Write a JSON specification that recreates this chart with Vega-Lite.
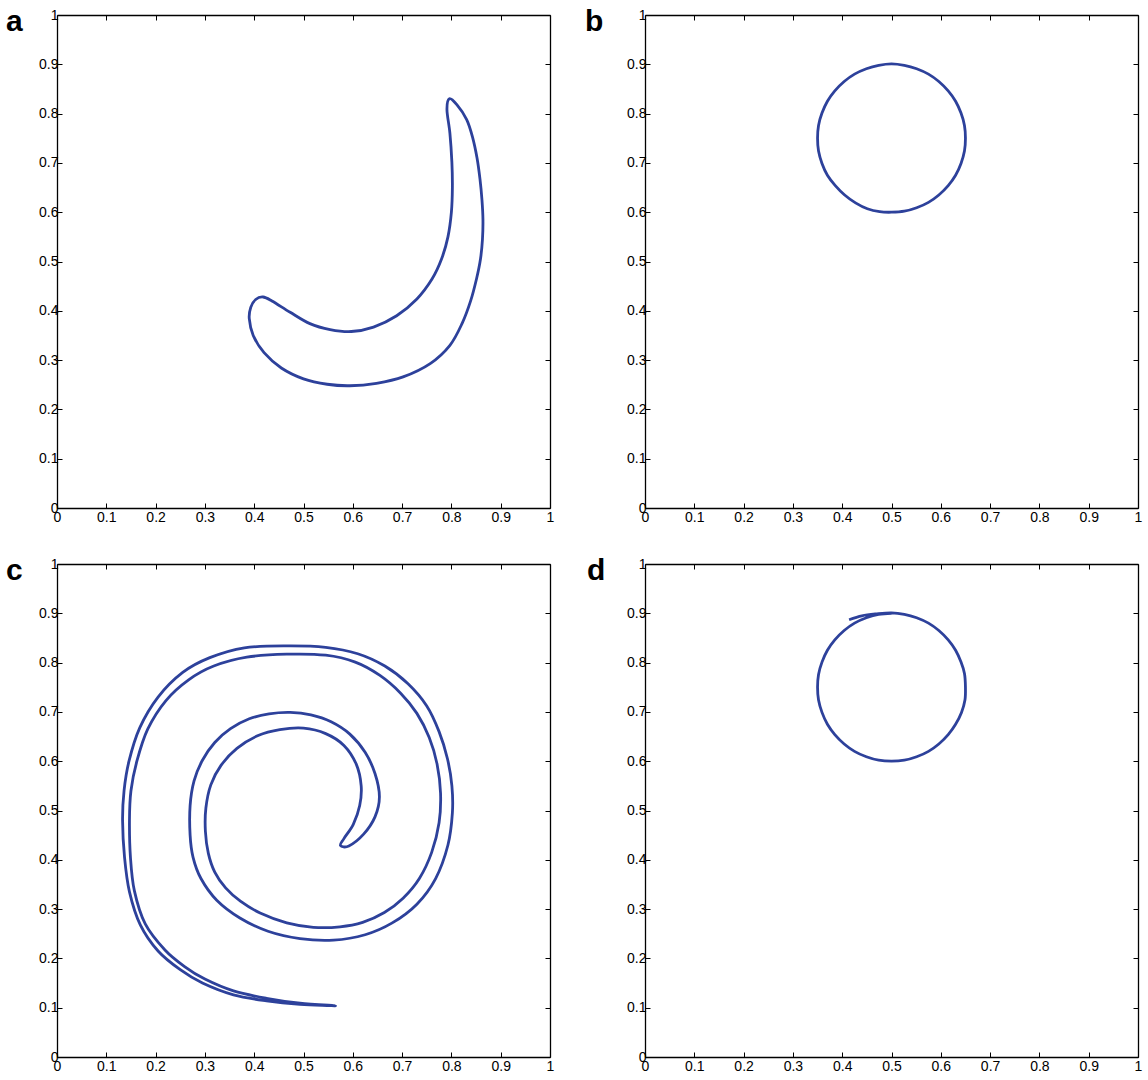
{
  "$schema": "https://vega.github.io/schema/vega-lite/v6.json",
  "padding": {"left": 6, "top": 7, "right": 6, "bottom": 2},
  "background": "white",
  "datasets": {
    "a": [
      {"i": 1, "x": 0.796, "y": 0.830}, {"i": 2, "x": 0.811, "y": 0.818}, {"i": 3, "x": 0.831, "y": 0.788},
      {"i": 4, "x": 0.843, "y": 0.752}, {"i": 5, "x": 0.852, "y": 0.710}, {"i": 6, "x": 0.858, "y": 0.667},
      {"i": 7, "x": 0.862, "y": 0.625}, {"i": 8, "x": 0.864, "y": 0.585}, {"i": 9, "x": 0.863, "y": 0.545},
      {"i": 10, "x": 0.859, "y": 0.505}, {"i": 11, "x": 0.851, "y": 0.465}, {"i": 12, "x": 0.839, "y": 0.420},
      {"i": 13, "x": 0.822, "y": 0.375}, {"i": 14, "x": 0.797, "y": 0.330}, {"i": 15, "x": 0.757, "y": 0.293},
      {"i": 16, "x": 0.702, "y": 0.266}, {"i": 17, "x": 0.648, "y": 0.253}, {"i": 18, "x": 0.594, "y": 0.248},
      {"i": 19, "x": 0.548, "y": 0.251}, {"i": 20, "x": 0.500, "y": 0.262}, {"i": 21, "x": 0.455, "y": 0.284},
      {"i": 22, "x": 0.420, "y": 0.315}, {"i": 23, "x": 0.398, "y": 0.350}, {"i": 24, "x": 0.390, "y": 0.384},
      {"i": 25, "x": 0.393, "y": 0.407}, {"i": 26, "x": 0.403, "y": 0.423}, {"i": 27, "x": 0.418, "y": 0.428},
      {"i": 28, "x": 0.436, "y": 0.420}, {"i": 29, "x": 0.473, "y": 0.397}, {"i": 30, "x": 0.513, "y": 0.374},
      {"i": 31, "x": 0.554, "y": 0.362}, {"i": 32, "x": 0.597, "y": 0.358}, {"i": 33, "x": 0.642, "y": 0.367},
      {"i": 34, "x": 0.689, "y": 0.390}, {"i": 35, "x": 0.730, "y": 0.424}, {"i": 36, "x": 0.761, "y": 0.465},
      {"i": 37, "x": 0.780, "y": 0.505}, {"i": 38, "x": 0.793, "y": 0.550}, {"i": 39, "x": 0.800, "y": 0.600},
      {"i": 40, "x": 0.802, "y": 0.650}, {"i": 41, "x": 0.801, "y": 0.701}, {"i": 42, "x": 0.797, "y": 0.760},
      {"i": 43, "x": 0.791, "y": 0.808}
    ],
    "b": [
      {"i": 1, "x": 0.650, "y": 0.750}, {"i": 2, "x": 0.648, "y": 0.776}, {"i": 3, "x": 0.641, "y": 0.801},
      {"i": 4, "x": 0.630, "y": 0.825}, {"i": 5, "x": 0.615, "y": 0.846}, {"i": 6, "x": 0.596, "y": 0.865},
      {"i": 7, "x": 0.575, "y": 0.880}, {"i": 8, "x": 0.551, "y": 0.891}, {"i": 9, "x": 0.526, "y": 0.898},
      {"i": 10, "x": 0.500, "y": 0.901}, {"i": 11, "x": 0.474, "y": 0.898}, {"i": 12, "x": 0.449, "y": 0.891},
      {"i": 13, "x": 0.425, "y": 0.880}, {"i": 14, "x": 0.404, "y": 0.865}, {"i": 15, "x": 0.385, "y": 0.846},
      {"i": 16, "x": 0.370, "y": 0.825}, {"i": 17, "x": 0.359, "y": 0.801}, {"i": 18, "x": 0.352, "y": 0.776},
      {"i": 19, "x": 0.350, "y": 0.750}, {"i": 20, "x": 0.352, "y": 0.724}, {"i": 21, "x": 0.359, "y": 0.699},
      {"i": 22, "x": 0.370, "y": 0.675}, {"i": 23, "x": 0.386, "y": 0.654}, {"i": 24, "x": 0.405, "y": 0.635},
      {"i": 25, "x": 0.427, "y": 0.619}, {"i": 26, "x": 0.451, "y": 0.607}, {"i": 27, "x": 0.476, "y": 0.601},
      {"i": 28, "x": 0.500, "y": 0.600}, {"i": 29, "x": 0.526, "y": 0.602}, {"i": 30, "x": 0.551, "y": 0.609},
      {"i": 31, "x": 0.575, "y": 0.620}, {"i": 32, "x": 0.596, "y": 0.635}, {"i": 33, "x": 0.615, "y": 0.654},
      {"i": 34, "x": 0.630, "y": 0.675}, {"i": 35, "x": 0.641, "y": 0.699}, {"i": 36, "x": 0.648, "y": 0.724}
    ],
    "c": [
      {"i": 1, "x": 0.565, "y": 0.104}, {"i": 2, "x": 0.493, "y": 0.107}, {"i": 3, "x": 0.425, "y": 0.114},
      {"i": 4, "x": 0.358, "y": 0.126}, {"i": 5, "x": 0.295, "y": 0.150}, {"i": 6, "x": 0.250, "y": 0.177},
      {"i": 7, "x": 0.205, "y": 0.215}, {"i": 8, "x": 0.169, "y": 0.268}, {"i": 9, "x": 0.147, "y": 0.335},
      {"i": 10, "x": 0.137, "y": 0.405}, {"i": 11, "x": 0.133, "y": 0.480}, {"i": 12, "x": 0.136, "y": 0.540},
      {"i": 13, "x": 0.146, "y": 0.600}, {"i": 14, "x": 0.168, "y": 0.668}, {"i": 15, "x": 0.205, "y": 0.730},
      {"i": 16, "x": 0.255, "y": 0.780}, {"i": 17, "x": 0.310, "y": 0.810}, {"i": 18, "x": 0.380, "y": 0.830},
      {"i": 19, "x": 0.466, "y": 0.834}, {"i": 20, "x": 0.545, "y": 0.831}, {"i": 21, "x": 0.610, "y": 0.818},
      {"i": 22, "x": 0.665, "y": 0.793}, {"i": 23, "x": 0.712, "y": 0.757}, {"i": 24, "x": 0.750, "y": 0.712},
      {"i": 25, "x": 0.775, "y": 0.660}, {"i": 26, "x": 0.792, "y": 0.605}, {"i": 27, "x": 0.801, "y": 0.550},
      {"i": 28, "x": 0.802, "y": 0.495}, {"i": 29, "x": 0.793, "y": 0.430}, {"i": 30, "x": 0.768, "y": 0.362},
      {"i": 31, "x": 0.730, "y": 0.310}, {"i": 32, "x": 0.680, "y": 0.272}, {"i": 33, "x": 0.625, "y": 0.248},
      {"i": 34, "x": 0.561, "y": 0.237}, {"i": 35, "x": 0.493, "y": 0.240}, {"i": 36, "x": 0.428, "y": 0.255},
      {"i": 37, "x": 0.371, "y": 0.282}, {"i": 38, "x": 0.324, "y": 0.318}, {"i": 39, "x": 0.292, "y": 0.362},
      {"i": 40, "x": 0.276, "y": 0.405}, {"i": 41, "x": 0.270, "y": 0.450}, {"i": 42, "x": 0.270, "y": 0.510},
      {"i": 43, "x": 0.278, "y": 0.560}, {"i": 44, "x": 0.295, "y": 0.602}, {"i": 45, "x": 0.320, "y": 0.638},
      {"i": 46, "x": 0.352, "y": 0.666}, {"i": 47, "x": 0.390, "y": 0.686}, {"i": 48, "x": 0.430, "y": 0.696},
      {"i": 49, "x": 0.473, "y": 0.699}, {"i": 50, "x": 0.515, "y": 0.694}, {"i": 51, "x": 0.556, "y": 0.680},
      {"i": 52, "x": 0.594, "y": 0.655}, {"i": 53, "x": 0.625, "y": 0.618}, {"i": 54, "x": 0.645, "y": 0.575},
      {"i": 55, "x": 0.654, "y": 0.528}, {"i": 56, "x": 0.645, "y": 0.487}, {"i": 57, "x": 0.622, "y": 0.452},
      {"i": 58, "x": 0.592, "y": 0.428}, {"i": 59, "x": 0.575, "y": 0.429}, {"i": 60, "x": 0.582, "y": 0.443},
      {"i": 61, "x": 0.601, "y": 0.472}, {"i": 62, "x": 0.614, "y": 0.510}, {"i": 63, "x": 0.617, "y": 0.550},
      {"i": 64, "x": 0.607, "y": 0.594}, {"i": 65, "x": 0.582, "y": 0.632}, {"i": 66, "x": 0.545, "y": 0.656},
      {"i": 67, "x": 0.500, "y": 0.667}, {"i": 68, "x": 0.452, "y": 0.664}, {"i": 69, "x": 0.408, "y": 0.652},
      {"i": 70, "x": 0.365, "y": 0.626}, {"i": 71, "x": 0.333, "y": 0.592}, {"i": 72, "x": 0.312, "y": 0.552},
      {"i": 73, "x": 0.302, "y": 0.505}, {"i": 74, "x": 0.301, "y": 0.458}, {"i": 75, "x": 0.307, "y": 0.413},
      {"i": 76, "x": 0.320, "y": 0.375}, {"i": 77, "x": 0.342, "y": 0.343}, {"i": 78, "x": 0.372, "y": 0.316},
      {"i": 79, "x": 0.412, "y": 0.292}, {"i": 80, "x": 0.466, "y": 0.272}, {"i": 81, "x": 0.520, "y": 0.263},
      {"i": 82, "x": 0.574, "y": 0.264}, {"i": 83, "x": 0.620, "y": 0.273}, {"i": 84, "x": 0.664, "y": 0.293},
      {"i": 85, "x": 0.702, "y": 0.322}, {"i": 86, "x": 0.735, "y": 0.362}, {"i": 87, "x": 0.760, "y": 0.415},
      {"i": 88, "x": 0.775, "y": 0.475}, {"i": 89, "x": 0.778, "y": 0.535}, {"i": 90, "x": 0.771, "y": 0.594},
      {"i": 91, "x": 0.755, "y": 0.648}, {"i": 92, "x": 0.730, "y": 0.697}, {"i": 93, "x": 0.697, "y": 0.738},
      {"i": 94, "x": 0.655, "y": 0.774}, {"i": 95, "x": 0.605, "y": 0.801}, {"i": 96, "x": 0.545, "y": 0.815},
      {"i": 97, "x": 0.466, "y": 0.817}, {"i": 98, "x": 0.385, "y": 0.811}, {"i": 99, "x": 0.318, "y": 0.793},
      {"i": 100, "x": 0.267, "y": 0.765}, {"i": 101, "x": 0.221, "y": 0.723}, {"i": 102, "x": 0.184, "y": 0.665},
      {"i": 103, "x": 0.162, "y": 0.600}, {"i": 104, "x": 0.150, "y": 0.540}, {"i": 105, "x": 0.147, "y": 0.480},
      {"i": 106, "x": 0.149, "y": 0.405}, {"i": 107, "x": 0.157, "y": 0.337}, {"i": 108, "x": 0.179, "y": 0.270},
      {"i": 109, "x": 0.219, "y": 0.217}, {"i": 110, "x": 0.258, "y": 0.184}, {"i": 111, "x": 0.300, "y": 0.158},
      {"i": 112, "x": 0.358, "y": 0.134}, {"i": 113, "x": 0.425, "y": 0.119}, {"i": 114, "x": 0.493, "y": 0.109}
    ],
    "d": [
      {"i": 1, "x": 0.414, "y": 0.887}, {"i": 2, "x": 0.440, "y": 0.895}, {"i": 3, "x": 0.470, "y": 0.899},
      {"i": 4, "x": 0.500, "y": 0.901}, {"i": 5, "x": 0.526, "y": 0.898}, {"i": 6, "x": 0.551, "y": 0.891},
      {"i": 7, "x": 0.575, "y": 0.880}, {"i": 8, "x": 0.596, "y": 0.865}, {"i": 9, "x": 0.615, "y": 0.846},
      {"i": 10, "x": 0.630, "y": 0.825}, {"i": 11, "x": 0.641, "y": 0.801}, {"i": 12, "x": 0.648, "y": 0.778},
      {"i": 13, "x": 0.650, "y": 0.750}, {"i": 14, "x": 0.649, "y": 0.724}, {"i": 15, "x": 0.642, "y": 0.699},
      {"i": 16, "x": 0.630, "y": 0.675}, {"i": 17, "x": 0.615, "y": 0.654}, {"i": 18, "x": 0.596, "y": 0.635},
      {"i": 19, "x": 0.575, "y": 0.620}, {"i": 20, "x": 0.551, "y": 0.609}, {"i": 21, "x": 0.526, "y": 0.602},
      {"i": 22, "x": 0.500, "y": 0.600}, {"i": 23, "x": 0.474, "y": 0.602}, {"i": 24, "x": 0.449, "y": 0.609},
      {"i": 25, "x": 0.425, "y": 0.620}, {"i": 26, "x": 0.404, "y": 0.635}, {"i": 27, "x": 0.385, "y": 0.654},
      {"i": 28, "x": 0.370, "y": 0.675}, {"i": 29, "x": 0.359, "y": 0.699}, {"i": 30, "x": 0.352, "y": 0.724},
      {"i": 31, "x": 0.350, "y": 0.750}, {"i": 32, "x": 0.352, "y": 0.776}, {"i": 33, "x": 0.359, "y": 0.801},
      {"i": 34, "x": 0.370, "y": 0.825}, {"i": 35, "x": 0.385, "y": 0.846}, {"i": 36, "x": 0.404, "y": 0.865},
      {"i": 37, "x": 0.425, "y": 0.880}, {"i": 38, "x": 0.449, "y": 0.891}, {"i": 39, "x": 0.474, "y": 0.898},
      {"i": 40, "x": 0.500, "y": 0.900}
    ]
  },
  "columns": 2,
  "spacing": {"row": 56, "column": 95},
  "bounds": "flush",
  "concat": [
    {
      "width": 493, "height": 493,
      "title": {"text": "a", "dx": -51},
      "data": {"name": "a"},
      "layer": [
        {
          "mark": {"type": "line", "interpolate": "cardinal-closed", "color": "#2d419b", "strokeWidth": 2.8, "clip": false},
          "encoding": {
            "x": {"field": "x", "type": "quantitative", "scale": {"domain": [0, 1], "nice": false}, "axis": {"orient": "bottom", "title": null, "tickCount": 10, "format": ".1~f"}},
            "y": {"field": "y", "type": "quantitative", "scale": {"domain": [0, 1], "nice": false}, "axis": {"orient": "left", "title": null, "tickCount": 10, "format": ".1~f"}},
            "order": {"field": "i", "type": "quantitative"}
          }
        },
        {
          "mark": {"type": "line", "opacity": 0},
          "encoding": {
            "x": {"field": "x", "type": "quantitative", "axis": {"orient": "top", "title": null, "tickCount": 10, "labels": false}},
            "y": {"field": "y", "type": "quantitative", "axis": {"orient": "right", "title": null, "tickCount": 10, "labels": false}},
            "order": {"field": "i", "type": "quantitative"}
          }
        }
      ],
      "resolve": {"axis": {"x": "independent", "y": "independent"}}
    },
    {
      "width": 493, "height": 493,
      "title": {"text": "b", "dx": -60},
      "data": {"name": "b"},
      "layer": [
        {
          "mark": {"type": "line", "interpolate": "cardinal-closed", "color": "#2d419b", "strokeWidth": 2.8, "clip": false},
          "encoding": {
            "x": {"field": "x", "type": "quantitative", "scale": {"domain": [0, 1], "nice": false}, "axis": {"orient": "bottom", "title": null, "tickCount": 10, "format": ".1~f"}},
            "y": {"field": "y", "type": "quantitative", "scale": {"domain": [0, 1], "nice": false}, "axis": {"orient": "left", "title": null, "tickCount": 10, "format": ".1~f"}},
            "order": {"field": "i", "type": "quantitative"}
          }
        },
        {
          "mark": {"type": "line", "opacity": 0},
          "encoding": {
            "x": {"field": "x", "type": "quantitative", "axis": {"orient": "top", "title": null, "tickCount": 10, "labels": false}},
            "y": {"field": "y", "type": "quantitative", "axis": {"orient": "right", "title": null, "tickCount": 10, "labels": false}},
            "order": {"field": "i", "type": "quantitative"}
          }
        }
      ],
      "resolve": {"axis": {"x": "independent", "y": "independent"}}
    },
    {
      "width": 493, "height": 493,
      "title": {"text": "c", "dx": -51},
      "data": {"name": "c"},
      "layer": [
        {
          "mark": {"type": "line", "interpolate": "cardinal-closed", "color": "#2d419b", "strokeWidth": 2.8, "clip": false},
          "encoding": {
            "x": {"field": "x", "type": "quantitative", "scale": {"domain": [0, 1], "nice": false}, "axis": {"orient": "bottom", "title": null, "tickCount": 10, "format": ".1~f"}},
            "y": {"field": "y", "type": "quantitative", "scale": {"domain": [0, 1], "nice": false}, "axis": {"orient": "left", "title": null, "tickCount": 10, "format": ".1~f"}},
            "order": {"field": "i", "type": "quantitative"}
          }
        },
        {
          "mark": {"type": "line", "opacity": 0},
          "encoding": {
            "x": {"field": "x", "type": "quantitative", "axis": {"orient": "top", "title": null, "tickCount": 10, "labels": false}},
            "y": {"field": "y", "type": "quantitative", "axis": {"orient": "right", "title": null, "tickCount": 10, "labels": false}},
            "order": {"field": "i", "type": "quantitative"}
          }
        }
      ],
      "resolve": {"axis": {"x": "independent", "y": "independent"}}
    },
    {
      "width": 493, "height": 493,
      "title": {"text": "d", "dx": -58},
      "data": {"name": "d"},
      "layer": [
        {
          "mark": {"type": "line", "interpolate": "catmull-rom", "color": "#2d419b", "strokeWidth": 2.8, "clip": false},
          "encoding": {
            "x": {"field": "x", "type": "quantitative", "scale": {"domain": [0, 1], "nice": false}, "axis": {"orient": "bottom", "title": null, "tickCount": 10, "format": ".1~f"}},
            "y": {"field": "y", "type": "quantitative", "scale": {"domain": [0, 1], "nice": false}, "axis": {"orient": "left", "title": null, "tickCount": 10, "format": ".1~f"}},
            "order": {"field": "i", "type": "quantitative"}
          }
        },
        {
          "mark": {"type": "line", "opacity": 0},
          "encoding": {
            "x": {"field": "x", "type": "quantitative", "axis": {"orient": "top", "title": null, "tickCount": 10, "labels": false}},
            "y": {"field": "y", "type": "quantitative", "axis": {"orient": "right", "title": null, "tickCount": 10, "labels": false}},
            "order": {"field": "i", "type": "quantitative"}
          }
        }
      ],
      "resolve": {"axis": {"x": "independent", "y": "independent"}}
    }
  ],
  "config": {
    "view": {"stroke": null},
    "axis": {
      "grid": false,
      "domainColor": "#000000",
      "domainWidth": 1.3,
      "tickColor": "#000000",
      "tickWidth": 1,
      "tickSize": -5,
      "labelFont": "Liberation Sans",
      "labelFontSize": 14,
      "labelColor": "#000000",
      "labelPadding": 4,
      "labelFlush": false,
      "labelOverlap": false,
      "labelBound": false
    },
    "axisBottom": {"labelPadding": 7},
    "title": {
      "anchor": "start",
      "frame": "group",
      "orient": "top",
      "offset": -17,
      "dy": 12,
      "baseline": "alphabetic",
      "font": "Liberation Sans",
      "fontSize": 30,
      "fontWeight": "bold",
      "color": "#000000"
    }
  }
}
